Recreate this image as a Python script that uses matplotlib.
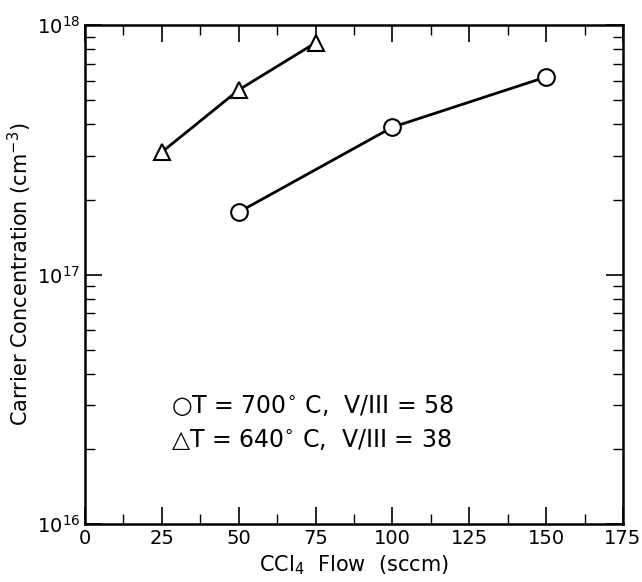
import numpy as np
import matplotlib
matplotlib.use("Agg")
import matplotlib.pyplot as plt
from matplotlib.ticker import LogLocator, MultipleLocator, NullFormatter

# T = 700 C, V/III = 58
flow_700 = [50, 100, 150]
conc_700 = [1.78e17, 3.9e17, 6.2e17]

# T = 640 C, V/III = 38
flow_640 = [25, 50, 75]
conc_640 = [3.1e17, 5.5e17, 8.5e17]

x_ticks = [0, 25, 50, 75, 100, 125, 150, 175]

fig = plt.figure(figsize=(6.42, 5.82), dpi=100)
ax = fig.add_axes([0.1324, 0.0997, 0.838, 0.857])

ax.plot(flow_700, conc_700, color="black", lw=2, marker="o", ms=12,
        mfc="white", mec="black", mew=1.5)
ax.plot(flow_640, conc_640, color="black", lw=2, marker="^", ms=11,
        mfc="white", mec="black", mew=1.5)

ax.set_yscale("log")
ax.set_xlim(0, 175)
ax.set_ylim(1e16, 1e18)
ax.set_xticks(x_ticks)
ax.xaxis.set_minor_locator(MultipleLocator(12.5))
ax.yaxis.set_major_locator(LogLocator(base=10))
ax.yaxis.set_minor_locator(LogLocator(base=10, subs=np.arange(2, 10)))
ax.yaxis.set_minor_formatter(NullFormatter())

ax.tick_params(which="both", direction="in", top=True, right=True, labelsize=14)
ax.tick_params(which="major", length=12, width=1.2)
ax.tick_params(which="minor", length=7, width=1.0)
for s in ax.spines.values():
    s.set_linewidth(1.8)

ax.set_xlabel("CCl$_4$  Flow  (sccm)", fontsize=15)
ax.set_ylabel("Carrier Concentration (cm$^{-3}$)", fontsize=15)
ax.yaxis.set_label_coords(-0.095, 0.5)

ax.text(28, 2.95e16, "\u25cbT = 700$^{\\circ}$ C,  V/III = 58", fontsize=17,
        ha="left", va="center")
ax.text(28, 2.17e16, "\u25b3T = 640$^{\\circ}$ C,  V/III = 38", fontsize=17,
        ha="left", va="center")

fig.savefig("out.png", dpi=100)
